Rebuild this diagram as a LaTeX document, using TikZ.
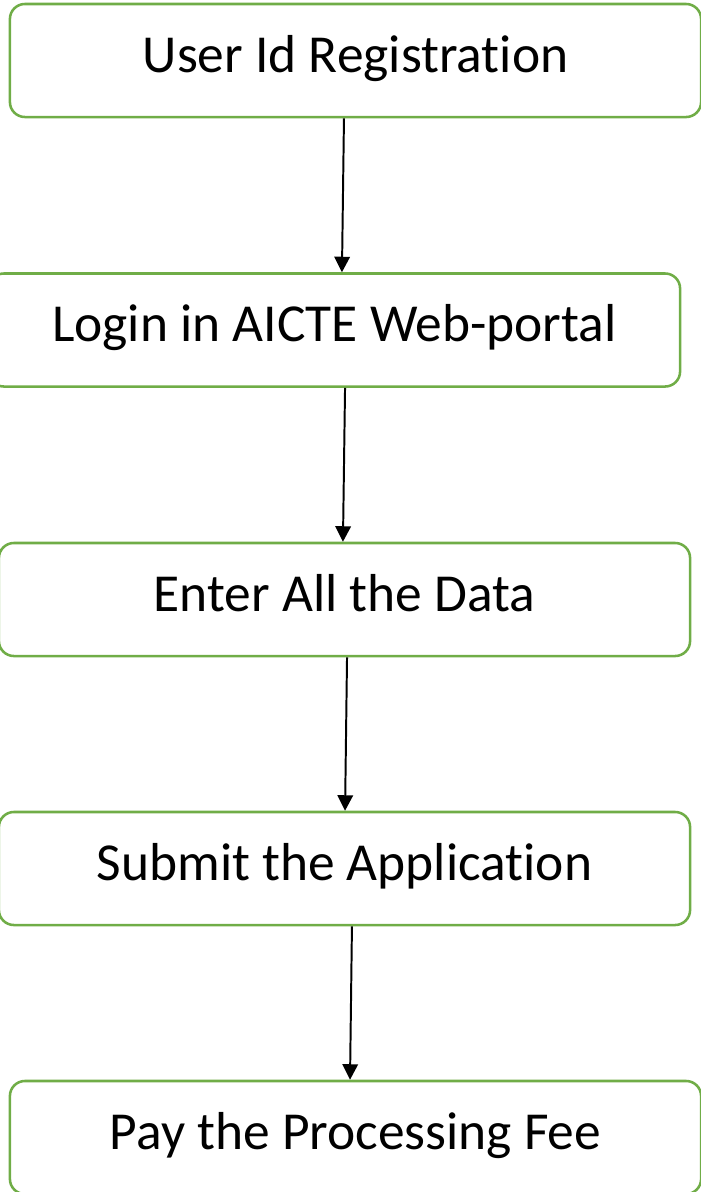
\documentclass[tikz,border=0pt]{standalone}
\usepackage{fontspec}
\setmainfont[Ligatures=NoCommon]{Carlito}
\usetikzlibrary{arrows.meta}
\definecolor{boxgreen}{RGB}{112,173,71}
\begin{document}
\begin{tikzpicture}[x=0.025cm, y=-0.025cm, >={Triangle[width=11pt,length=11pt]},
  stepbox/.style={draw=boxgreen, line width=1.8pt, rounded corners=0.375cm,
    minimum width=17.275cm, minimum height=2.825cm, inner sep=0pt,
    text height=25pt, text depth=8.5pt,
    font=\fontsize{38}{46}\selectfont},
  flow/.style={->, line width=1.4pt}]
  \clip (0,0) rectangle (701,1192);

  \node[stepbox] (reg)    at (355.5,60.5)   {User Id Registration};
  \node[stepbox] (login)  at (334.5,330)    {Login in AICTE Web-portal};
  \node[stepbox] (data)   at (344.5,599.5)  {Enter All the Data};
  \node[stepbox] (submit) at (344.5,868.5)  {Submit the Application};
  \node[stepbox] (fee)    at (355.5,1137.5) {Pay the Processing Fee};

  % steps
  \draw[flow] ([xshift=-8.2pt]reg.south)   -- ([xshift=5.3pt]login.north);
  \draw[flow] ([xshift=7.5pt]login.south)  -- ([xshift=-1.1pt]data.north);
  \draw[flow] ([xshift=1.8pt]data.south)   -- ([xshift=0.4pt]submit.north);
  \draw[flow] ([xshift=5.3pt]submit.south) -- ([xshift=-3.9pt]fee.north);
\end{tikzpicture}
\end{document}
